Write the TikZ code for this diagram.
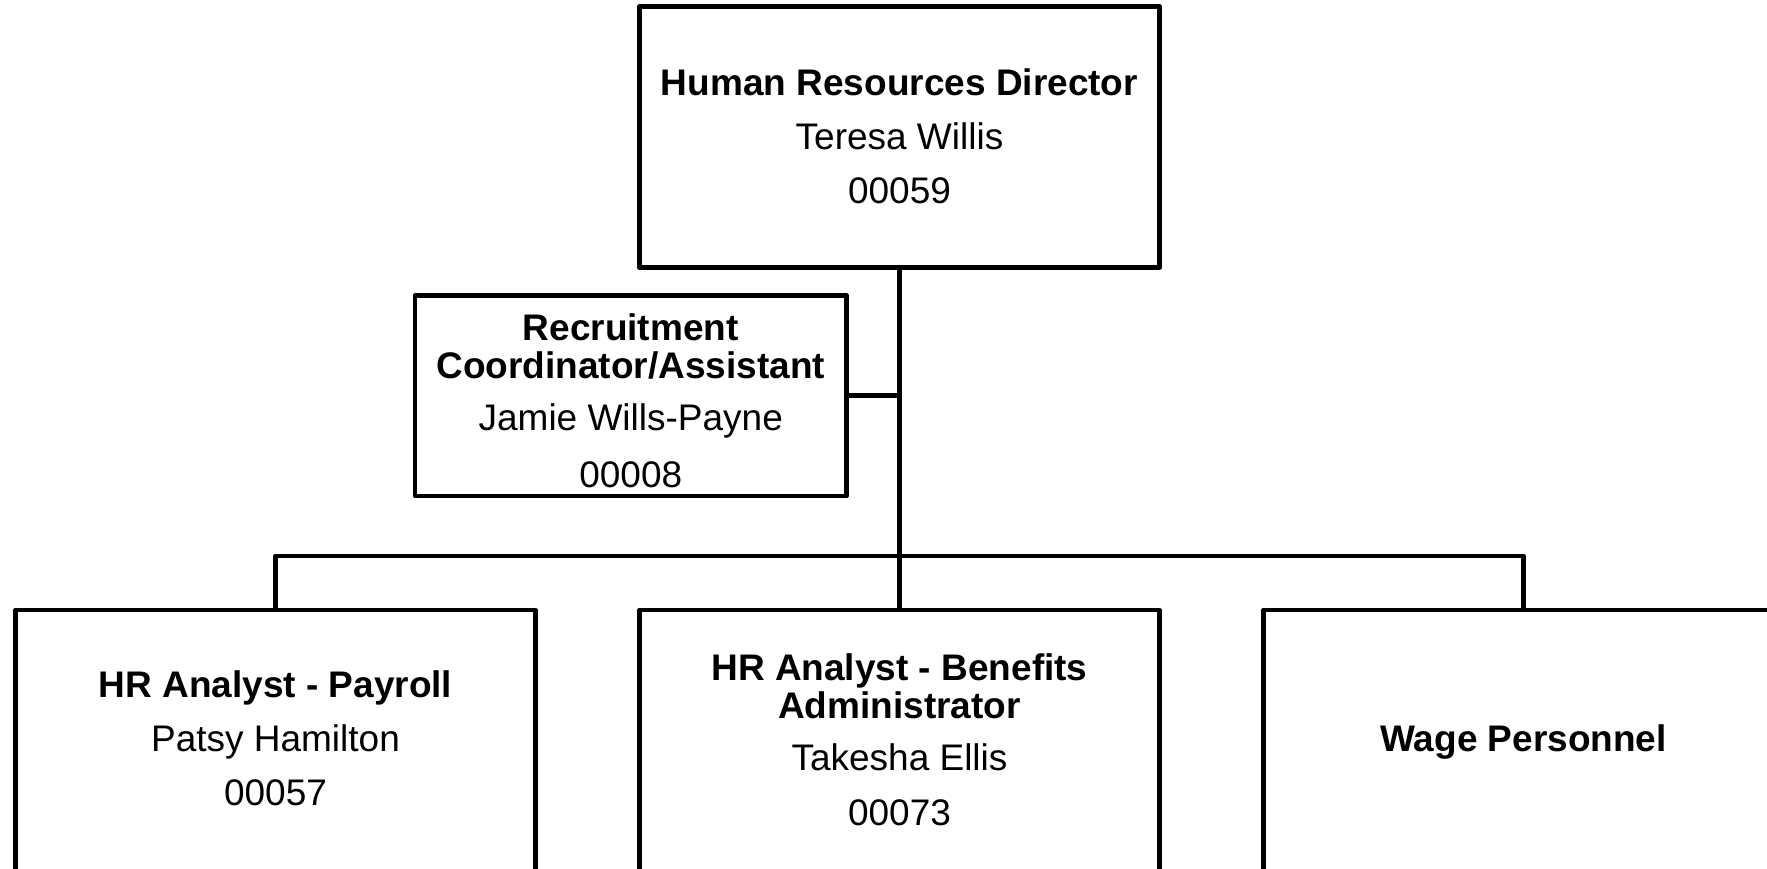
\documentclass[tikz,border=0pt]{standalone}
\usepackage{fontspec}
\setmainfont{Liberation Sans}
\begin{document}
\begin{tikzpicture}[x=1pt,y=-1pt,
  box/.style={draw=black,line width=4.8pt,line join=round,rectangle,inner sep=0pt,outer sep=0pt,minimum width=520pt,minimum height=261pt},
  wire/.style={draw=black,line width=4.8pt,line join=round},
  ttl/.style={anchor=base,inner sep=0pt,font=\fontsize{37}{37}\selectfont\bfseries},
  txt/.style={anchor=base,inner sep=0pt,font=\fontsize{37}{37}\selectfont}]
\useasboundingbox (0,0) rectangle (1767,868);
\clip (0,0) rectangle (1767,868);
\fill[white] (0,0) rectangle (1767,868);
% boxes
\node[box] (top) at (899.5,137) {};
\node[box,minimum width=431.5pt,minimum height=200.5pt] (rec) at (630.75,395.75) {};
\node[box] (left) at (275.5,740.5) {};
\node[box] (mid) at (899.5,740.5) {};
\node[box] (right) at (1523.5,740.5) {};
\coordinate (bus) at (899.5,556);
% connectors
\draw[wire] (top.south) -- (mid.north);
\draw[wire] (rec.east) -- (rec.east -| top.south);
\draw[wire] (left.north) |- (bus) -| (right.north);
% texts
\node[ttl] (t1) at (899.5,95) {Human Resources Director};
\node[txt] (t2) at (899.5,149) {Teresa Willis};
\node[txt] (t3) at (899.5,203) {00059};
\node[ttl,text depth=0pt] (r1) at (630.75,340.5) {Recruitment};
\node[ttl,text height=27pt] (r2) at (630.75,378.5) {Coordinator/Assistant};
\node[txt] (r3) at (630.75,430) {Jamie Wills-Payne};
\node[txt] (r4) at (630.75,487.3) {00008};
\node[ttl] (l1) at (275.5,697.3) {HR Analyst - Payroll};
\node[txt] (l2) at (275.5,751) {Patsy Hamilton};
\node[txt] (l3) at (275.5,805.7) {00057};
\node[ttl,text depth=0pt] (m1) at (899.5,680) {HR Analyst - Benefits};
\node[ttl,text height=27pt] (m2) at (899.5,718) {Administrator};
\node[txt] (m3) at (899.5,770) {Takesha Ellis};
\node[txt] (m4) at (899.5,825) {00073};
\node[ttl] (w1) at (1523.5,751.5) {Wage Personnel};
\end{tikzpicture}
\end{document}
